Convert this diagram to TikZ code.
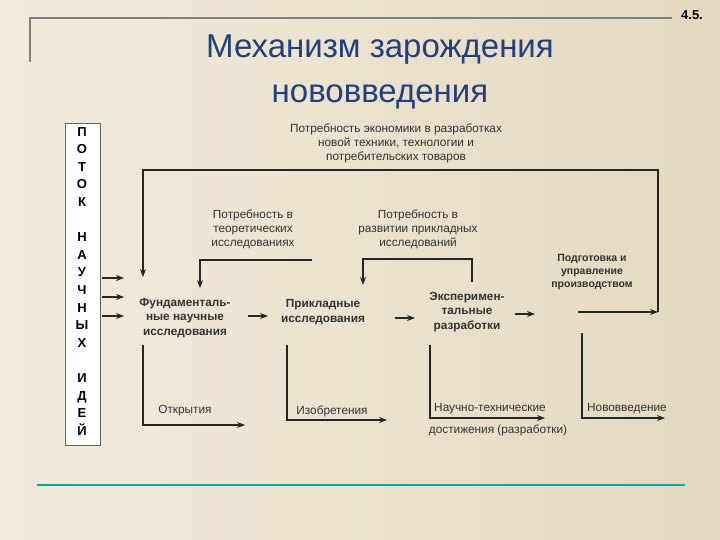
\documentclass[tikz,border=0pt]{standalone}
\usepackage{fontspec}
\setmainfont{Liberation Sans}
\usetikzlibrary{arrows.meta}
\definecolor{bgA}{HTML}{F2EBDD}
\definecolor{bgB}{HTML}{E4D8C0}
\definecolor{titlec}{HTML}{23407A}
\begin{document}
\begin{tikzpicture}[x=1pt,y=-1pt,
  ln/.style={line width=1.1pt,black!85},
  ar/.style={ln,-{Stealth[length=8pt,width=6pt]}},
  lab/.style={align=center,font=\fontsize{11.8}{14}\selectfont,text=black!80,inner sep=0pt},
  blab/.style={lab,font=\fontsize{11.8}{14.5}\selectfont\bfseries}]
\shade[left color=bgA,right color=bgB] (0,0) rectangle (720,540);
\useasboundingbox (0,0) rectangle (720,540);
\draw[gray,line width=1.5pt] (30,62) -- (30,18) -- (672,18);
\node[font=\fontsize{13}{15}\selectfont\bfseries] (num) at (692,15) {4.5.};
\node[align=center,text=titlec,font=\fontsize{33}{45}\selectfont,inner sep=0pt] (title) at (380,72) {Механизм зарождения\\нововведения};
\draw[teal!70!cyan,line width=1.5pt] (37,485) -- (685,485);
% left box
\node[draw=black!60,fill=white,minimum width=35,minimum height=322,anchor=north west,inner sep=0pt] (box) at (65,123) {};
\node[align=center,font=\fontsize{13}{17.6}\selectfont\bfseries,anchor=north,inner sep=0pt] (boxt) at (82,127) {П\\О\\Т\\О\\К\\[17.6pt]Н\\А\\У\\Ч\\Н\\Ы\\Х\\[17.6pt]И\\Д\\Е\\Й};
\coordinate (b1) at (102,278); \coordinate (b2) at (102,297); \coordinate (b3) at (102,316);
\coordinate (e1) at (124,278); \coordinate (e2) at (124,297); \coordinate (e3) at (124,316);
\draw[ar] (b1) -- (e1); \draw[ar] (b2) -- (e2); \draw[ar] (b3) -- (e3);
% texts
\node[lab] (need) at (396,143) {Потребность экономики в разработках\\новой техники, технологии и\\потребительских товаров};
\node[lab] (theo) at (253,229) {Потребность в\\теоретических\\исследованиях};
\node[lab] (appl) at (418,229) {Потребность в\\развитии прикладных\\исследований};
\node[blab] (fund) at (185,318) {Фундаменталь-\\ные научные\\исследования};
\node[blab] (pr) at (323,312) {Прикладные\\исследования};
\node[blab] (exp) at (467,312) {Эксперимен-\\тальные\\разработки};
\node[blab,font=\fontsize{10.5}{13}\selectfont\bfseries] (prod) at (592,272) {Подготовка и\\управление\\производством};
\node[lab] (o1) at (185,411) {Открытия};
\node[lab] (o2) at (332,411) {Изобретения};
\node[lab] (o3) at (490,409) {Научно-технические};
\node[lab] (o3b) at (498,430) {достижения (разработки)};
\node[lab] (o4) at (627,409) {Нововведение};
% top loop
\coordinate (t1) at (143,170); \coordinate (t2) at (658,170); \coordinate (t3) at (658,312);
\coordinate (t4) at (578,312); \coordinate (t5) at (143,277);
\draw[ar] (t3) -- (t2) -- (t1) -- (t5);
\draw[ar] (t4) -- (t3);
\coordinate (u1) at (312,260); \coordinate (u2) at (200,260); \coordinate (u3) at (200,288);
\draw[ar] (u1) -- (u2) -- (u3);
\coordinate (v1) at (472,282); \coordinate (v2) at (472,259); \coordinate (v3) at (363,259); \coordinate (v4) at (363,285);
\draw[ar] (v1) -- (v2) -- (v3) -- (v4);
% chain arrows
\coordinate (c1) at (248,316); \coordinate (c2) at (268,316);
\coordinate (c3) at (395,318); \coordinate (c4) at (415,318);
\coordinate (c5) at (515,314); \coordinate (c6) at (535,314);
\draw[ar] (c1) -- (c2); \draw[ar] (c3) -- (c4); \draw[ar] (c5) -- (c6);
% outputs
\coordinate (d1) at (143,345); \coordinate (d2) at (143,425); \coordinate (d3) at (245,425);
\draw[ar] (d1) -- (d2) -- (d3);
\coordinate (f1) at (287,345); \coordinate (f2) at (287,420); \coordinate (f3) at (387,420);
\draw[ar] (f1) -- (f2) -- (f3);
\coordinate (g1) at (430,345); \coordinate (g2) at (430,418); \coordinate (g3) at (545,418);
\draw[ar] (g1) -- (g2) -- (g3);
\coordinate (h1) at (582,333); \coordinate (h2) at (582,418); \coordinate (h3) at (665,418);
\draw[ar] (h1) -- (h2) -- (h3);
\end{tikzpicture}
\end{document}
